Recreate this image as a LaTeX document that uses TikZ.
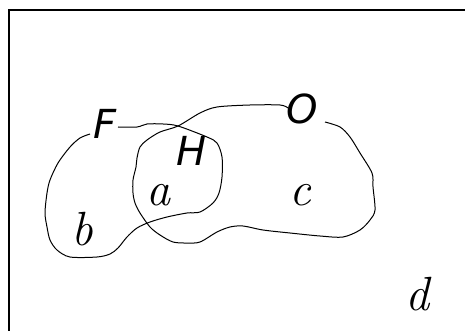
\documentclass[tikz,border=0pt]{standalone}
\usepackage{fontspec}
\newfontfamily\dsans{DejaVu Sans}
\newcommand\sanssz{\dsans\itshape\fontsize{40}{42}\selectfont}
\newcommand\mathsz{\rmfamily\itshape\fontsize{48}{50}\selectfont}
\begin{document}
\begin{tikzpicture}[x=1pt,y=-1pt,
  curve/.style={line width=1pt, black, smooth, tension=0.5},
  sanslbl/.style={anchor=base west, inner sep=0pt},
  mathlbl/.style={anchor=base west, inner sep=0pt}]
\useasboundingbox (0,0) rectangle (465,331);
\clip (0,0) rectangle (465,331);
% frame
\draw[line width=2pt] (470,10) -- (8.5,10) -- (8.5,340);
% curve F
\draw[curve] plot coordinates {(118,127) (137,127) (147,124) (163,124) (178,126) (207,137) (217,143) (222,157) (222,177) (219,193) (213,203) (200,212) (187,213) (167,217) (150,222) (137,228) (127,237) (118,248) (110,254) (97,257) (70,257) (57,250) (50,240) (47,227) (45,213) (47,193) (50,180) (58,163) (70,147) (80,138) (90,134)};
% curve O
\draw[curve] plot coordinates {(288,108) (280,105) (250,105) (217,107) (200,113) (178,126) (160,132) (147,140) (140,147) (137,158) (136,167) (133,180) (133,193) (135,203) (140,213) (150,227) (160,235) (173,242) (187,243) (200,242) (217,232) (230,227) (243,226) (263,230) (290,233) (320,236) (343,237) (360,230) (370,220) (375,210) (373,187) (372,173) (360,153) (350,137) (340,127) (325,122)};
% labels
\node[sanslbl] (F) at (93,139) {\sanssz F};
\node[sanslbl] (H) at (176,165) {\sanssz H};
\node[sanslbl] (O) at (286,124) {\sanssz O};
\node[mathlbl] (a) at (146,205) {\mathsz a};
\node[mathlbl] (b) at (71,245) {\mathsz b};
\node[mathlbl] (c) at (289,205) {\mathsz c};
\node[mathlbl] (d) at (405,310) {\mathsz d};
\end{tikzpicture}
\end{document}
